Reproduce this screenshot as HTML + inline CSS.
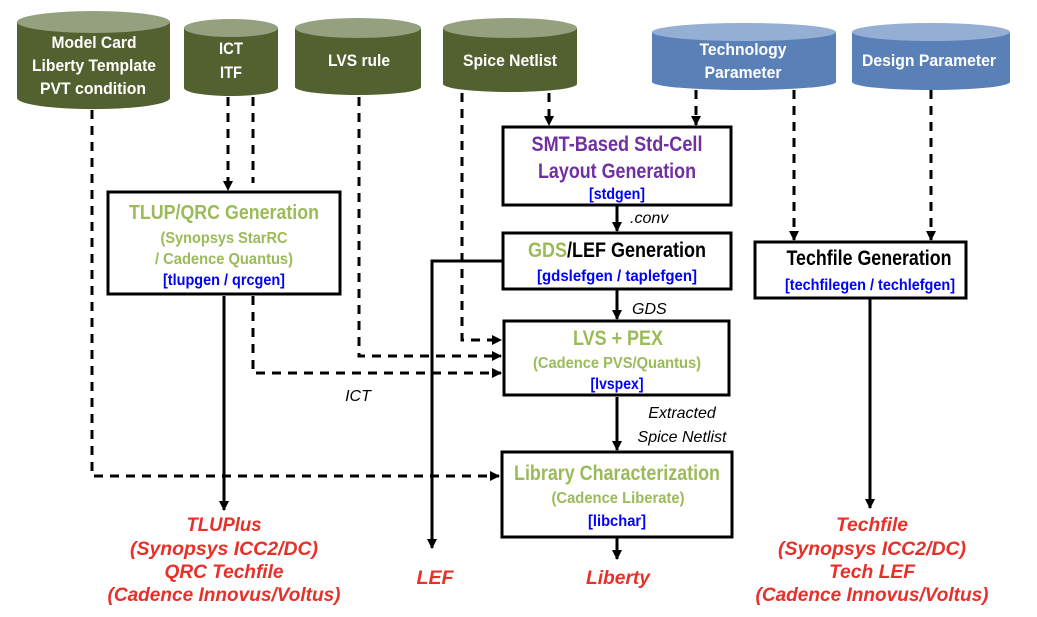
<!DOCTYPE html>
<html><head><meta charset="utf-8"><style>
html,body{margin:0;padding:0;background:#fff}
svg{display:block}
.n{font-family:"Liberation Sans",sans-serif;font-weight:bold}
.w{font-family:"Liberation Sans",sans-serif}
</style></head><body>
<svg width="1037" height="617" viewBox="0 0 1037 617" xmlns="http://www.w3.org/2000/svg">
<defs>
<marker id="a" markerWidth="10" markerHeight="10" refX="9" refY="5" orient="auto" markerUnits="userSpaceOnUse"><path d="M0,0 L10,5 L0,10 z" fill="#000"/></marker>
</defs>
<g>
<path d="M17,22 L17,98 A76,11 0 0 0 170,98 L170,22 Z" fill="#536030"/><ellipse cx="93.5" cy="22" rx="76.5" ry="11" fill="#95a07f"/>
<path d="M184,28 L184,88 A47,8 0 0 0 278,88 L278,28 Z" fill="#536030"/><ellipse cx="231" cy="28" rx="47" ry="9" fill="#95a07f"/>
<path d="M295,28 L295,87 A63,8 0 0 0 421,87 L421,28 Z" fill="#536030"/><ellipse cx="358" cy="28" rx="63" ry="10" fill="#95a07f"/>
<path d="M443,28 L443,84 A67,8 0 0 0 577,84 L577,28 Z" fill="#536030"/><ellipse cx="510" cy="28" rx="67" ry="10" fill="#95a07f"/>
<path d="M652,32 L652,82 A92,8 0 0 0 836,82 L836,32 Z" fill="#5a80b8"/><ellipse cx="744" cy="32" rx="92" ry="9" fill="#95aed4"/>
<path d="M852,32 L852,82 A79,8 0 0 0 1010,82 L1010,32 Z" fill="#5a80b8"/><ellipse cx="931" cy="32" rx="79" ry="9" fill="#95aed4"/>
</g>
<g class="n" fill="#fff" font-size="17" text-anchor="middle">
<text x="94" y="48" textLength="85" lengthAdjust="spacingAndGlyphs">Model Card</text>
<text x="94" y="71" textLength="124" lengthAdjust="spacingAndGlyphs">Liberty Template</text>
<text x="93" y="94" textLength="106" lengthAdjust="spacingAndGlyphs">PVT condition</text>
<text x="231" y="54" textLength="24" lengthAdjust="spacingAndGlyphs">ICT</text>
<text x="231" y="78" textLength="22" lengthAdjust="spacingAndGlyphs">ITF</text>
<text x="359" y="66" textLength="62" lengthAdjust="spacingAndGlyphs">LVS rule</text>
<text x="510" y="66" textLength="94" lengthAdjust="spacingAndGlyphs">Spice Netlist</text>
<text x="743" y="55" textLength="87" lengthAdjust="spacingAndGlyphs">Technology</text>
<text x="743" y="78" textLength="77" lengthAdjust="spacingAndGlyphs">Parameter</text>
<text x="929" y="66" textLength="134" lengthAdjust="spacingAndGlyphs">Design Parameter</text>
</g>
<g fill="none" stroke="#000" stroke-width="3" stroke-dasharray="9,7">
<path d="M92,110 V476 H499" marker-end="url(#a)"/>
<path d="M228,97 V190" marker-end="url(#a)"/>
<path d="M253,97 V183"/>
<path d="M253,296 V373 H501" marker-end="url(#a)"/>
<path d="M359,97 V356 H501" marker-end="url(#a)"/>
<path d="M462,93 V340 H501" marker-end="url(#a)"/>
<path d="M549,93 V125" marker-end="url(#a)"/>
<path d="M696,90 V125" marker-end="url(#a)"/>
<path d="M794,90 V240" marker-end="url(#a)"/>
<path d="M931,90 V240" marker-end="url(#a)"/>
</g>
<g fill="none" stroke="#000" stroke-width="3">
<path d="M224,296 V510" marker-end="url(#a)"/>
<path d="M502,261 H432 V548" marker-end="url(#a)"/>
<path d="M617,206 V231" marker-end="url(#a)"/>
<path d="M617,290 V319" marker-end="url(#a)"/>
<path d="M617,397 V450" marker-end="url(#a)"/>
<path d="M617,538 V559" marker-end="url(#a)"/>
<path d="M870,299 V508" marker-end="url(#a)"/>
</g>
<g fill="#fff" stroke="#000" stroke-width="3">
<rect x="108" y="192" width="232" height="102"/>
<rect x="503" y="127" width="228" height="78"/>
<rect x="503" y="233" width="228" height="56"/>
<rect x="755" y="242" width="211" height="56"/>
<rect x="504" y="321" width="225" height="74"/>
<rect x="502" y="452" width="230" height="85"/>
</g>
<g class="n" text-anchor="middle">
<text x="224" y="219" font-size="20" fill="#9bbb59" textLength="190" lengthAdjust="spacingAndGlyphs">TLUP/QRC Generation</text>
<text x="224" y="243" font-size="16" fill="#9bbb59" textLength="127" lengthAdjust="spacingAndGlyphs">(Synopsys StarRC</text>
<text x="224" y="264" font-size="16" fill="#9bbb59" textLength="138" lengthAdjust="spacingAndGlyphs">/ Cadence Quantus)</text>
<text x="224" y="285" font-size="16" fill="#0000ff" textLength="122" lengthAdjust="spacingAndGlyphs">[tlupgen / qrcgen]</text>
<text x="617" y="151" font-size="21" fill="#7030a0" textLength="171" lengthAdjust="spacingAndGlyphs">SMT-Based Std-Cell</text>
<text x="617" y="178" font-size="21" fill="#7030a0" textLength="158" lengthAdjust="spacingAndGlyphs">Layout Generation</text>
<text x="617" y="199" font-size="16" fill="#0000ff" textLength="56" lengthAdjust="spacingAndGlyphs">[stdgen]</text>
<text x="617" y="257" font-size="21" fill="#000" textLength="178" lengthAdjust="spacingAndGlyphs"><tspan fill="#9bbb59">GDS</tspan>/LEF Generation</text>
<text x="617" y="281" font-size="16" fill="#0000ff" textLength="160" lengthAdjust="spacingAndGlyphs">[gdslefgen / taplefgen]</text>
<text x="869" y="265" font-size="21" fill="#000" textLength="165" lengthAdjust="spacingAndGlyphs">Techfile Generation</text>
<text x="870" y="290" font-size="16" fill="#0000ff" textLength="170" lengthAdjust="spacingAndGlyphs">[techfilegen / techlefgen]</text>
<text x="618" y="345" font-size="21" fill="#9bbb59" textLength="90" lengthAdjust="spacingAndGlyphs">LVS + PEX</text>
<text x="617" y="368" font-size="16" fill="#9bbb59" textLength="168" lengthAdjust="spacingAndGlyphs">(Cadence PVS/Quantus)</text>
<text x="617" y="389" font-size="16" fill="#0000ff" textLength="53" lengthAdjust="spacingAndGlyphs">[lvspex]</text>
<text x="617" y="480" font-size="21" fill="#9bbb59" textLength="206" lengthAdjust="spacingAndGlyphs">Library Characterization</text>
<text x="618" y="503" font-size="16" fill="#9bbb59" textLength="133" lengthAdjust="spacingAndGlyphs">(Cadence Liberate)</text>
<text x="617" y="526" font-size="16" fill="#0000ff" textLength="58" lengthAdjust="spacingAndGlyphs">[libchar]</text>
</g>
<g class="w" font-style="italic" font-size="16" fill="#000">
<text x="630" y="223">.conv</text>
<text x="632" y="314">GDS</text>
<text x="358" y="401" text-anchor="middle">ICT</text>
<text x="682" y="418" text-anchor="middle">Extracted</text>
<text x="682" y="442" text-anchor="middle">Spice Netlist</text>
</g>
<g class="w" font-style="italic" font-weight="bold" font-size="19" fill="#e8302a" text-anchor="middle">
<text x="224" y="531" textLength="75" lengthAdjust="spacingAndGlyphs">TLUPlus</text>
<text x="224" y="555" textLength="188" lengthAdjust="spacingAndGlyphs">(Synopsys ICC2/DC)</text>
<text x="224" y="578" textLength="119" lengthAdjust="spacingAndGlyphs">QRC Techfile</text>
<text x="224" y="601" textLength="233" lengthAdjust="spacingAndGlyphs">(Cadence Innovus/Voltus)</text>
<text x="435" y="584" textLength="37" lengthAdjust="spacingAndGlyphs">LEF</text>
<text x="618" y="584" textLength="64" lengthAdjust="spacingAndGlyphs">Liberty</text>
<text x="872" y="531" textLength="72" lengthAdjust="spacingAndGlyphs">Techfile</text>
<text x="872" y="555" textLength="188" lengthAdjust="spacingAndGlyphs">(Synopsys ICC2/DC)</text>
<text x="872" y="578" textLength="86" lengthAdjust="spacingAndGlyphs">Tech LEF</text>
<text x="872" y="601" textLength="233" lengthAdjust="spacingAndGlyphs">(Cadence Innovus/Voltus)</text>
</g>
</svg>
</body></html>
